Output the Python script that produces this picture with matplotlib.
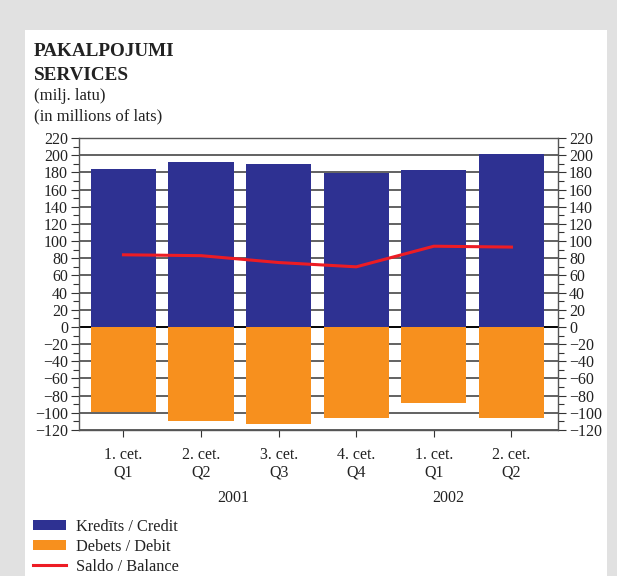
import matplotlib
matplotlib.use("Agg")
import matplotlib.pyplot as plt
from matplotlib.patches import Rectangle, Patch
from matplotlib.lines import Line2D
import numpy as np

plt.rcParams['font.family'] = ['Liberation Serif', 'DejaVu Serif']

quarters = ["1. cet.\nQ1", "2. cet.\nQ2", "3. cet.\nQ3", "4. cet.\nQ4", "1. cet.\nQ1", "2. cet.\nQ2"]
years = ["2001", "2002"]
credit = [184, 192, 190, 179, 183, 201]
debit = [-99, -110, -113, -106, -89, -106]
balance = [84, 83, 75, 70, 94, 93]

W, H = 617, 576
fig = plt.figure(figsize=(W / 100, H / 100), dpi=100)
fig.patch.set_facecolor('#e1e1e1')
bg = Rectangle((25 / W, 0), (607 - 25) / W, (576 - 30) / H,
               transform=fig.transFigure, facecolor='white',
               edgecolor='none', zorder=-5)
fig.patches.append(bg)

ax = fig.add_axes([79 / W, 1 - 430 / H, (558 - 79) / W, (430 - 138) / H])
ax.set_zorder(2)
ax.patch.set_facecolor('white')
x = np.arange(len(credit))
ax.set_axisbelow(True)
ax.grid(axis='y', color='#555555', lw=1.3)
ax.axhline(0, color='black', lw=1.3, zorder=1)
ax.bar(x, credit, width=0.84, color='#2e3192', zorder=2)
ax.bar(x, debit, width=0.84, color='#f7901e', zorder=2)
ax.plot(x, balance, color='#ed1c24', lw=2.2, zorder=3)

ax.set_xlim(-0.573, 5.6)
ax.set_ylim(-120, 220)
ax.set_yticks(np.arange(-120, 221, 20))
ax.set_yticks(np.arange(-120, 221, 10), minor=True)
ax.set_yticklabels([str(v).replace('-', '\u2212') for v in range(-120, 221, 20)])
ax.set_xticks(x)
ax.set_xticklabels(quarters, linespacing=1.15)
ax.tick_params(axis='y', which='both', left=True, right=True, labelleft=True,
               labelright=True, direction='out', labelsize=11.5, colors='#333333',
               labelcolor='#222222')
ax.tick_params(axis='y', which='major', length=6, width=0.8, pad=2)
ax.tick_params(axis='y', which='minor', length=4, width=0.8)
ax.tick_params(axis='x', direction='out', length=5, width=0.8, labelsize=11.5,
               colors='#333333', labelcolor='#222222', pad=7)
for s in ax.spines.values():
    s.set_color('#555555')
    s.set_linewidth(1.0)

# year labels
for xp, yr in [(1.42, years[0]), (4.18, years[1])]:
    ax.text(xp, -0.245, yr, transform=ax.get_xaxis_transform(), ha='center',
            va='baseline', fontsize=11.5, color='#222222')

fig.text(34 / W, 1 - 56 / H, 'PAKALPOJUMI', fontsize=13.8, fontweight='bold', color='#222222', va='baseline')
fig.text(34 / W, 1 - 80 / H, 'SERVICES', fontsize=13.8, fontweight='bold', color='#222222', va='baseline')
fig.text(34 / W, 1 - 100 / H, '(milj. latu)', fontsize=12, color='#222222', va='baseline')
fig.text(34 / W, 1 - 120 / H, '(in millions of lats)', fontsize=12, color='#222222', va='baseline')

handles = [Patch(facecolor='#2e3192'), Patch(facecolor='#f7901e'),
           Line2D([0], [0], color='#ed1c24', lw=2.2)]
labels = ['Kredīts / Credit', 'Debets / Debit', 'Saldo / Balance']
fig.legend(handles, labels, loc='upper left', bbox_to_anchor=(33 / W, 1 - 519 / H),
           frameon=False, fontsize=11.8, handlelength=2.0, handleheight=0.55,
           handletextpad=0.6, labelspacing=0.24, borderaxespad=0, borderpad=0,
           labelcolor='#222222')

fig.savefig('out.png', dpi=100, facecolor=fig.get_facecolor())
